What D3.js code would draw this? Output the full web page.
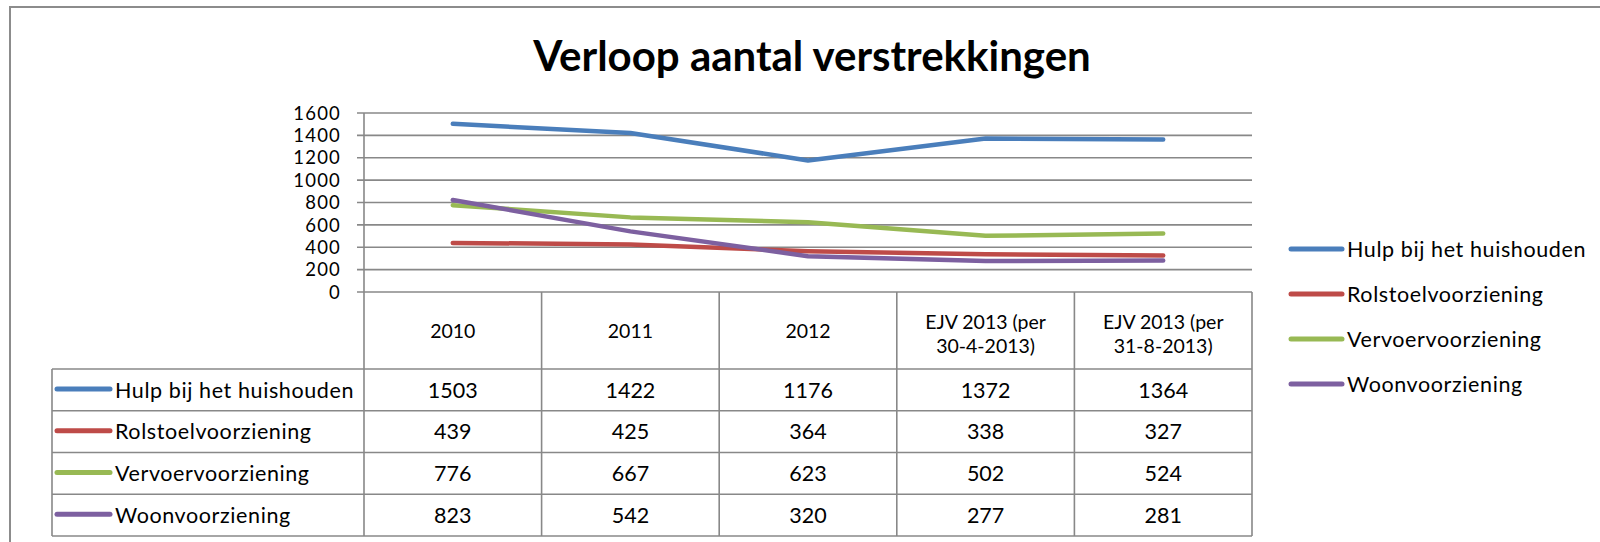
<!DOCTYPE html>
<html>
<head>
<meta charset="utf-8">
<script src="https://cdn.jsdelivr.net/npm/d3@7"></script>
<style>
  body { margin: 0; background: #fff; }
  text { font-family: Lato, "Open Sans", sans-serif; fill: #000; }
</style>
</head>
<body>
<script>
// chart data
const categories = ["2010", "2011", "2012", "EJV 2013 (per|30-4-2013)", "EJV 2013 (per|31-8-2013)"];
const seriesNames = ["Hulp bij het huishouden", "Rolstoelvoorziening", "Vervoervoorziening", "Woonvoorziening"];
const hulp = [1503, 1422, 1176, 1372, 1364];
const rolstoel = [439, 425, 364, 338, 327];
const vervoer = [776, 667, 623, 502, 524];
const woon = [823, 542, 320, 277, 281];
const yTicks = [0, 200, 400, 600, 800, 1000, 1200, 1400, 1600];
const colors = ["#4a7ebb", "#be4b48", "#98b954", "#7d60a0"];

const series = [hulp, rolstoel, vervoer, woon].map((values, i) => ({
  name: seriesNames[i],
  color: colors[i],
  values: values
}));

const width = 1600, height = 542;
const gridColor = "#888";

let svg = d3.select("body").append("svg")
  .attr("width", width)
  .attr("height", height);

// chart area frame (right and bottom fall outside the picture)
svg.append("rect")
  .attr("x", 10).attr("y", 7)
  .attr("width", 1700).attr("height", 700)
  .attr("fill", "none")
  .attr("stroke", "#8c8c8c")
  .attr("stroke-width", 2);

svg.append("text")
  .attr("x", 812).attr("y", 71)
  .attr("text-anchor", "middle")
  .attr("font-size", 42)
  .attr("font-weight", "bold")
  .text("Verloop aantal verstrekkingen");

let xScale = d3.scaleBand()
  .domain(categories)
  .range([364, 1252]);
let yScale = d3.scaleLinear()
  .domain([0, 1600])
  .range([292, 113]);
let rowScale = d3.scaleBand()
  .domain(seriesNames)
  .range([369, 536]);

// gridlines
svg.append("g")
  .selectAll("line")
  .data(yTicks)
  .enter()
  .append("line")
  .attr("x1", 357)
  .attr("x2", xScale.range()[1])
  .attr("y1", d => yScale(d))
  .attr("y2", d => yScale(d))
  .attr("stroke", gridColor)
  .attr("stroke-width", 1.6);

// tick labels are packed tightly, as in the original
svg.append("g")
  .selectAll("text")
  .data(yTicks)
  .enter()
  .append("text")
  .attr("x", 341)
  .attr("y", d => yScale(d))
  .attr("dy", "0.36em")
  .attr("text-anchor", "end")
  .attr("font-size", 18.5)
  .attr("letter-spacing", 1.2)
  .text(d => d);

// data table below the plot
let table = svg.append("g");
let tableLeft = 52, tableRight = xScale.range()[1];
let rowTop = rowScale.range()[0], rowBottom = rowScale.range()[1];

// column dividers (first one doubles as the value axis)
let colEdges = categories.map(c => xScale(c)).concat([tableRight]);
table.selectAll("line.col")
  .data(colEdges)
  .enter()
  .append("line")
  .attr("x1", d => d).attr("x2", d => d)
  .attr("y1", (d, i) => i == 0 ? yScale(1600) : yScale(0))
  .attr("y2", rowBottom)
  .attr("stroke", gridColor)
  .attr("stroke-width", 1.6);

let rowEdges = seriesNames.map(n => rowScale(n)).concat([rowBottom]);
table.selectAll("line.row")
  .data(rowEdges)
  .enter()
  .append("line")
  .attr("x1", tableLeft).attr("x2", tableRight)
  .attr("y1", d => d).attr("y2", d => d)
  .attr("stroke", gridColor)
  .attr("stroke-width", 1.6);

table.append("line")
  .attr("x1", tableLeft).attr("x2", tableLeft)
  .attr("y1", rowTop).attr("y2", rowBottom)
  .attr("stroke", gridColor)
  .attr("stroke-width", 1.6);

// column headers
table.selectAll("text.head")
  .data(categories)
  .enter()
  .append("text")
  .attr("x", d => xScale(d) + xScale.bandwidth() / 2)
  .attr("text-anchor", "middle")
  .attr("font-size", 19.5)
  .each(function(d) {
    let parts = d.split("|");
    let y0 = parts.length == 1 ? 331 : 322;
    d3.select(this).selectAll("tspan")
      .data(parts)
      .enter()
      .append("tspan")
      .attr("x", xScale(d) + xScale.bandwidth() / 2)
      .attr("y", (p, j) => y0 + j * 24)
      .attr("dy", "0.36em")
      .text(p => p);
  });

// rows: legend key, name, values
let rows = table.selectAll("g.row")
  .data(series)
  .enter()
  .append("g")
  .attr("transform", d => `translate(0,${rowScale(d.name) + rowScale.bandwidth() / 2})`);

rows.append("line")
  .attr("x1", 57).attr("x2", 110)
  .attr("y1", -1).attr("y2", -1)
  .attr("stroke", d => d.color)
  .attr("stroke-width", 5)
  .attr("stroke-linecap", "round");

rows.append("text")
  .attr("x", 115)
  .attr("dy", "0.36em")
  .attr("font-size", 21.5)
  .attr("letter-spacing", 0.6)
  .text(d => d.name);

rows.selectAll("text.val")
  .data(d => d.values)
  .enter()
  .append("text")
  .attr("x", (v, i) => xScale(categories[i]) + xScale.bandwidth() / 2)
  .attr("dy", "0.36em")
  .attr("text-anchor", "middle")
  .attr("font-size", 21.5)
  .text(v => v);

// series lines
let lineGen = d3.line()
  .x((d, i) => xScale(categories[i]) + xScale.bandwidth() / 2)
  .y(d => yScale(d));

svg.append("g")
  .selectAll("path")
  .data(series)
  .enter()
  .append("path")
  .attr("d", d => lineGen(d.values))
  .attr("fill", "none")
  .attr("stroke", d => d.color)
  .attr("stroke-width", 4.5)
  .attr("stroke-linecap", "round")
  .attr("stroke-linejoin", "round");

// legend on the right
let legend = svg.append("g")
  .selectAll("g")
  .data(series)
  .enter()
  .append("g")
  .attr("transform", (d, i) => `translate(0,${249 + i * 45})`);

legend.append("line")
  .attr("x1", 1291).attr("x2", 1342)
  .attr("stroke", d => d.color)
  .attr("stroke-width", 5)
  .attr("stroke-linecap", "round");

legend.append("text")
  .attr("x", 1347)
  .attr("dy", "0.36em")
  .attr("font-size", 21.5)
  .attr("letter-spacing", 0.6)
  .text(d => d.name);
</script>
</body>
</html>
